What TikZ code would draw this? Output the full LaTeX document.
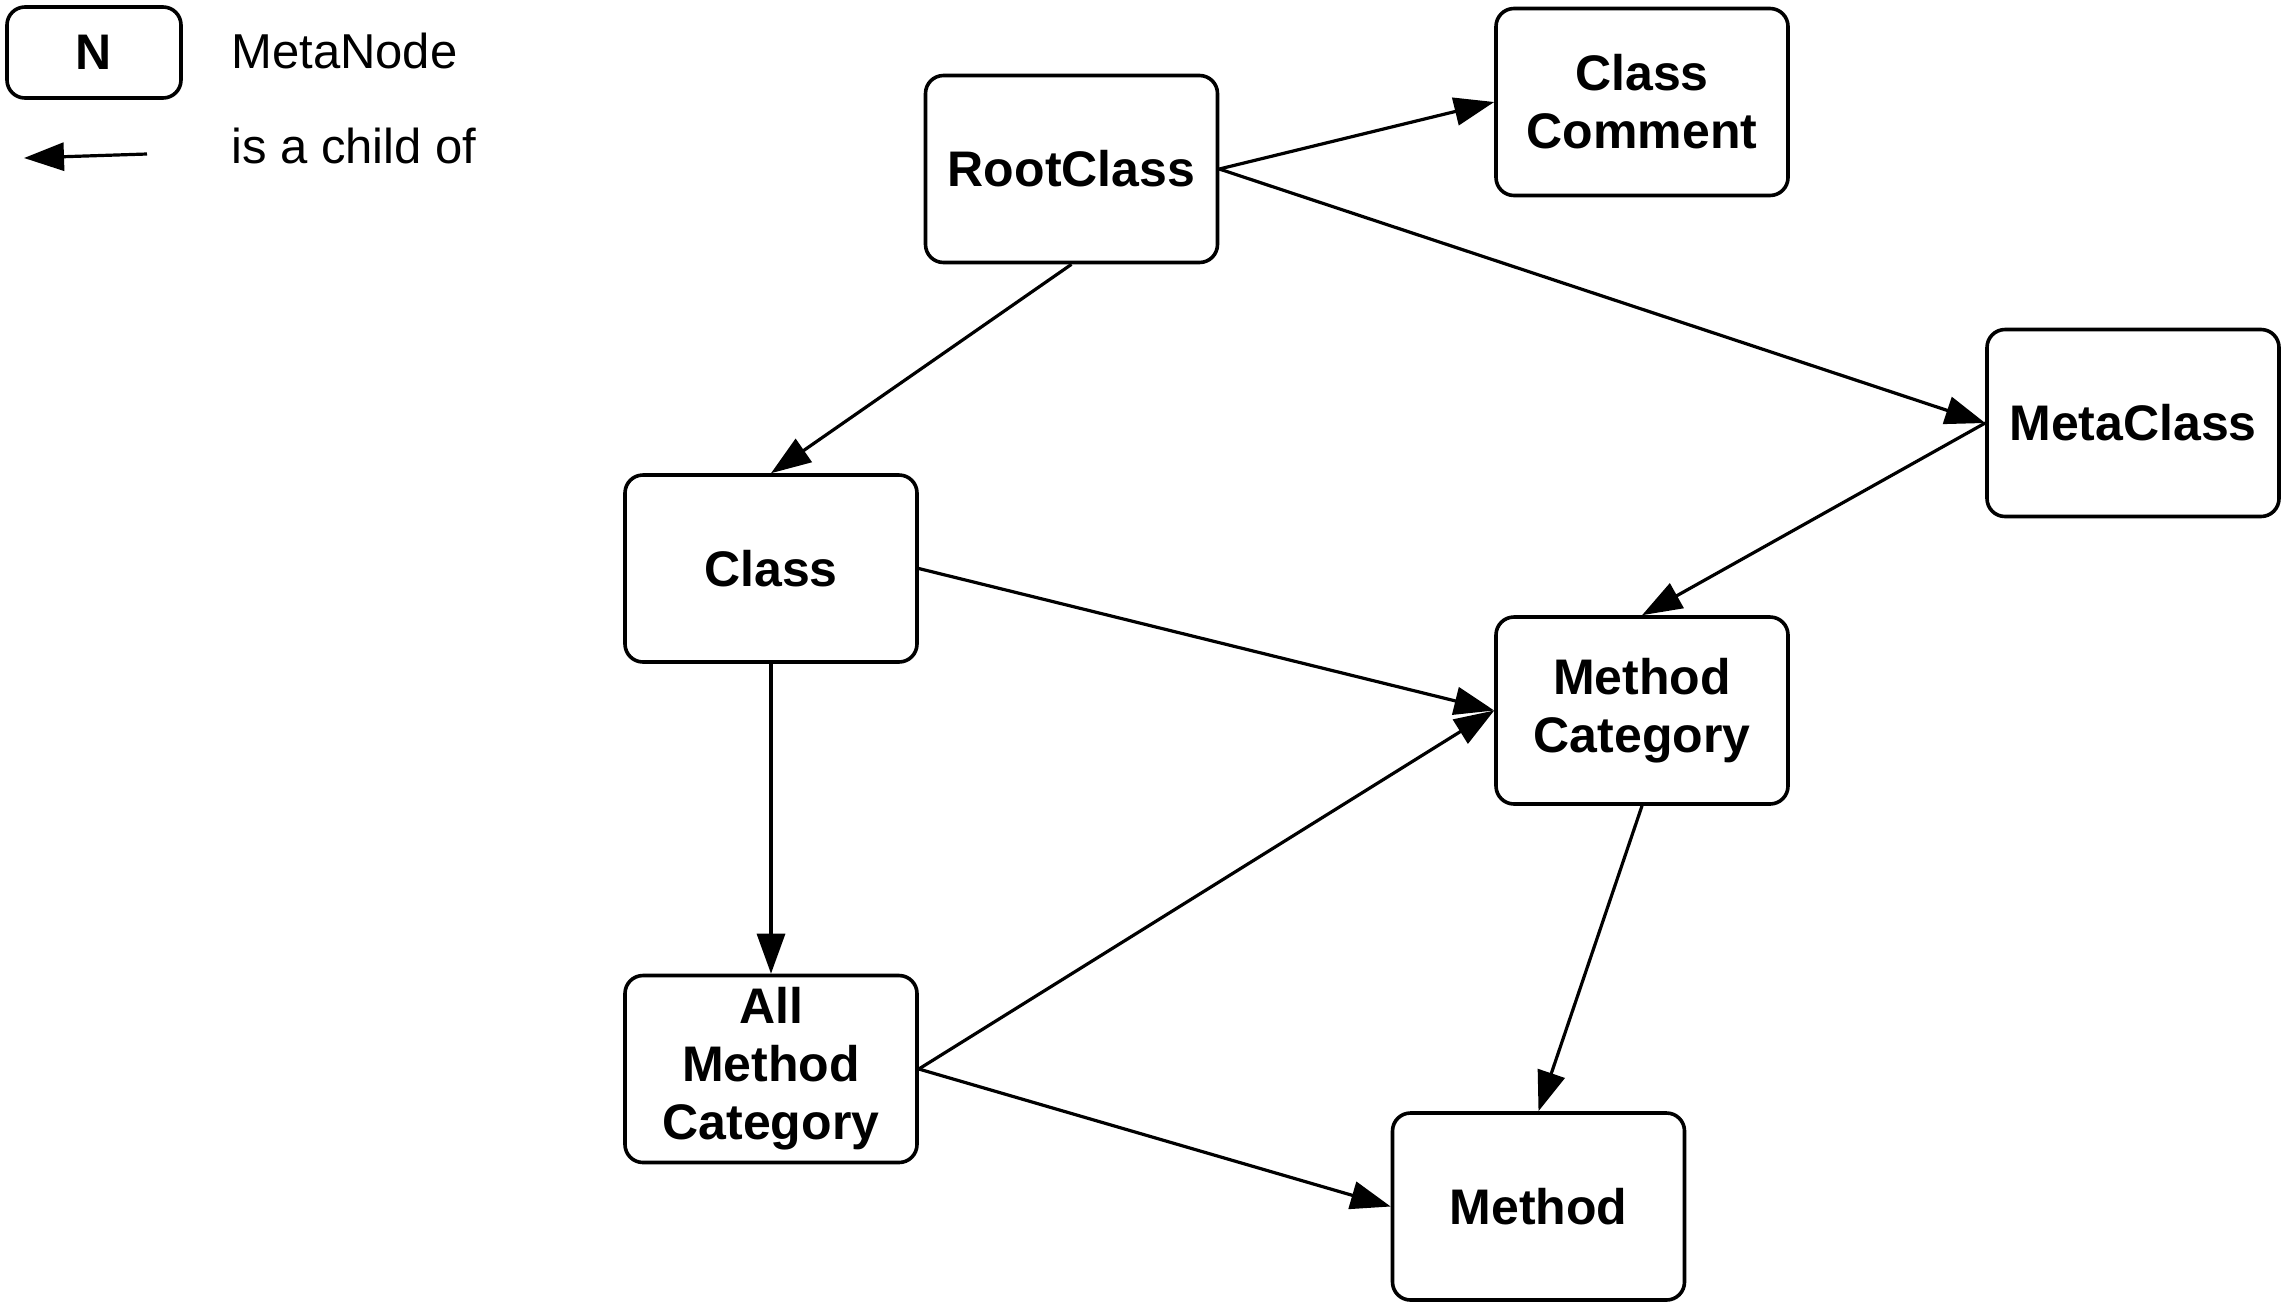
\documentclass[tikz,border=0pt]{standalone}
\usepackage{fontspec}
\setmainfont{Liberation Sans}
\usetikzlibrary{arrows.meta}
\tikzset{
  meta/.style={draw, line width=1.8pt, rounded corners=9pt, minimum width=146pt, minimum height=93.5pt, align=center, inner sep=2pt, font=\fontsize{25}{29}\selectfont\bfseries},
  child/.style={line width=1.6pt, -{Triangle[length=20pt,width=14pt]}},
  legtext/.style={anchor=base west, inner sep=0pt, font=\fontsize{24.5}{29}\selectfont}
}
\begin{document}
\begin{tikzpicture}[x=0.5pt,y=-0.5pt]
\useasboundingbox (0,0) rectangle (2287,1308);
% legend
\node[meta, minimum width=87pt, minimum height=45.5pt] (N) at (94,52.5) {N};
\node[legtext] (lmeta) at (231,68) {MetaNode};
\node[legtext] (lchild) at (231,163) {is a child of};
\coordinate (la) at (147,154);
\coordinate (lb) at (24,158);
\draw[child] (la) -- (lb);
% nodes
\node[meta] (root) at (1071.5,169) {RootClass};
\node[meta] (cc) at (1642,102) {Class\\Comment};
\node[meta] (mc) at (2133,423) {MetaClass};
\node[meta] (cls) at (771,568.5) {Class};
\node[meta] (mcat) at (1642,710.5) {Method\\Category};
\node[meta] (amc) at (771,1069) {All\\Method\\Category};
\node[meta] (meth) at (1538.5,1206.5) {Method};
% edges
\draw[child] (root.east) -- (cc.west);
\draw[child] (root.east) -- (mc.west);
\draw[child] (root.south) -- (cls.north);
\draw[child] (mc.west) -- (mcat.north);
\draw[child] (cls.east) -- (mcat.west);
\draw[child] (cls.south) -- (amc.north);
\draw[child] (amc.east) -- (mcat.west);
\draw[child] (amc.east) -- (meth.west);
\draw[child] (mcat.south) -- (meth.north);
\end{tikzpicture}
\end{document}
